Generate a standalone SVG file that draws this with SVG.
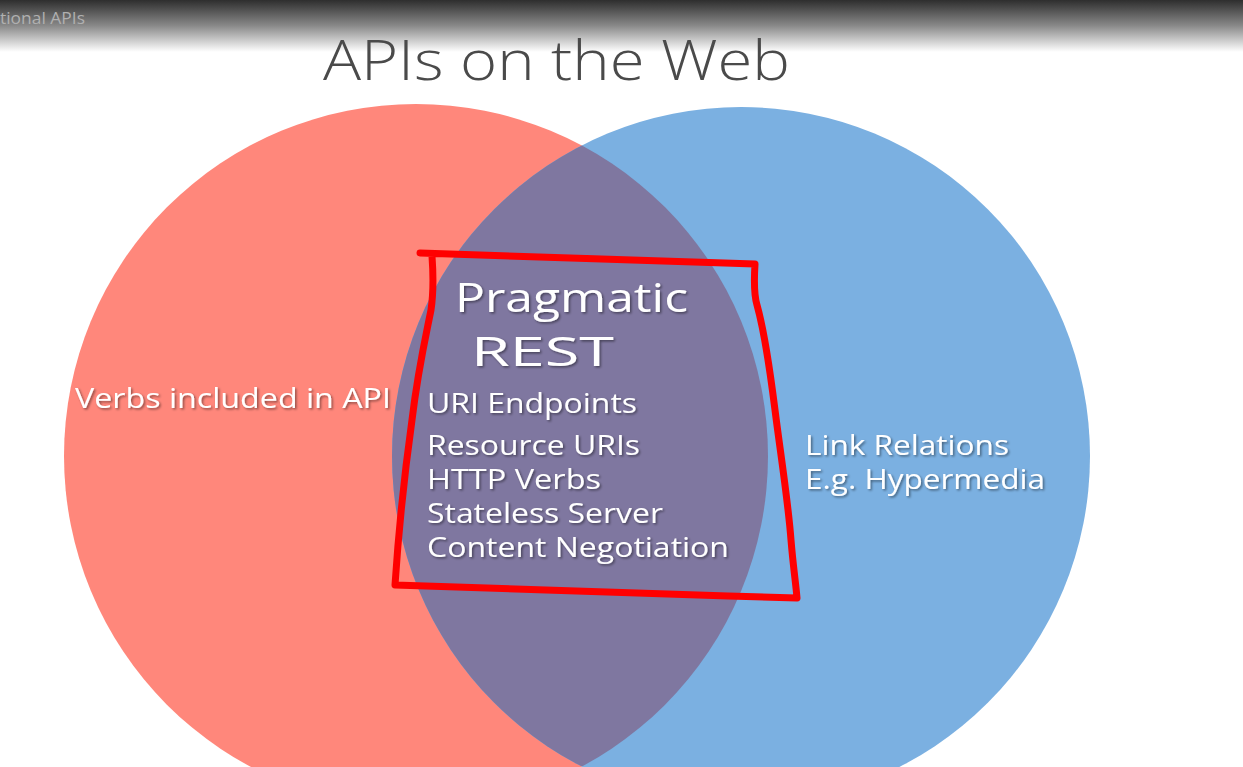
<svg xmlns="http://www.w3.org/2000/svg" width="1243" height="767" viewBox="0 0 1243 767">
<defs>
<linearGradient id="hdr" x1="0" y1="0" x2="0" y2="1">
<stop offset="0" stop-color="#2e2e2e"/>
<stop offset="0.5" stop-color="#8a8a8a"/>
<stop offset="1" stop-color="#ffffff"/>
</linearGradient>
<filter id="sh" x="-10%" y="-30%" width="120%" height="160%">
<feDropShadow dx="1.5" dy="1.5" stdDeviation="1" flood-color="#000" flood-opacity="0.45"/>
</filter>
<clipPath id="redclip"><circle cx="416" cy="456" r="352"/></clipPath>
</defs>
<style>
.t{font-family:"Open Sans","Liberation Sans",sans-serif;fill:#fff;filter:url(#sh)}
.big{font-size:41px}
.med{font-size:27px}
</style>
<rect width="1243" height="767" fill="#fff"/>
<rect width="1243" height="52" fill="url(#hdr)"/>
<text x="0" y="24" font-family="'Open Sans','Liberation Sans',sans-serif" font-size="16" fill="#b0b0b0" textLength="85" lengthAdjust="spacingAndGlyphs">tional APIs</text>
<text x="323" y="80" font-family="'Open Sans','Liberation Sans',sans-serif" font-weight="300" font-size="56" fill="#4a4a4a" textLength="467" lengthAdjust="spacingAndGlyphs">APIs on the Web</text>
<g id="red-circle"><circle cx="416" cy="456" r="352" fill="#FF877B"/></g>
<g id="blue-circle"><circle cx="741" cy="456" r="349" fill="#7BB0E1"/></g>
<g id="overlap"><circle cx="741" cy="456" r="349" fill="#7F77A0" clip-path="url(#redclip)"/></g>
<g id="left-label"><text class="t med" x="75" y="408" textLength="316" lengthAdjust="spacingAndGlyphs">Verbs included in API</text></g>
<g id="right-label">
<text class="t med" x="805" y="455" textLength="204" lengthAdjust="spacingAndGlyphs">Link Relations</text>
<text class="t med" x="805" y="489" textLength="240" lengthAdjust="spacingAndGlyphs">E.g. Hypermedia</text>
</g>
<g id="center-label">
<text class="t big" x="455" y="312" textLength="233" lengthAdjust="spacingAndGlyphs">Pragmatic</text>
<text class="t big" x="471" y="366" textLength="143" lengthAdjust="spacingAndGlyphs">REST</text>
<text class="t med" x="427" y="413" textLength="210" lengthAdjust="spacingAndGlyphs">URI Endpoints</text>
<text class="t med" x="427" y="455" textLength="213" lengthAdjust="spacingAndGlyphs">Resource URIs</text>
<text class="t med" x="427" y="489" textLength="174" lengthAdjust="spacingAndGlyphs">HTTP Verbs</text>
<text class="t med" x="427" y="523" textLength="236" lengthAdjust="spacingAndGlyphs">Stateless Server</text>
<text class="t med" x="427" y="557" textLength="302" lengthAdjust="spacingAndGlyphs">Content Negotiation</text>
</g>
<g id="connectors">
<path d="M420,253 C520,257 650,260 755,264 C754,280 754,295 757,305 C764,330 770,370 775,410 C780,450 788,500 791,540 C793,565 796,585 797,598 C660,594 520,590 395,585 C398,540 405,470 412,420 C418,370 425,340 431,310 C434,290 433,270 432,256" fill="none" stroke="#FF0000" stroke-width="7" stroke-linejoin="round" stroke-linecap="round"/>
</g>
</svg>
